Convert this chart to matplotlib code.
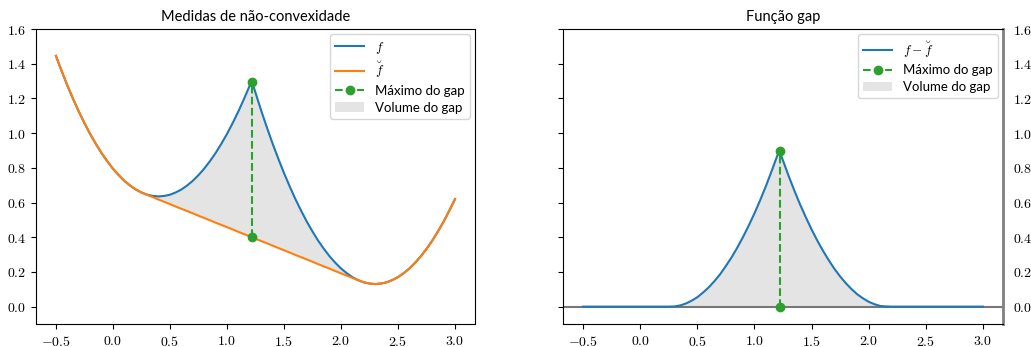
import numpy as np
import matplotlib.pyplot as plt
from matplotlib.ticker import FuncFormatter

plt.rcParams['mathtext.fontset'] = 'cm'
plt.rcParams['font.family'] = ['Lato', 'DejaVu Sans']

# values
x = [-0.5, -0.45, -0.4, -0.35, -0.3, -0.25, -0.2, -0.15, -0.1, -0.05,
     0.0, 0.05, 0.1, 0.15, 0.2, 0.25, 0.3, 0.35, 0.4, 0.45,
     0.5, 0.55, 0.6, 0.65, 0.7, 0.75, 0.8, 0.85, 0.9, 0.95,
     1.0, 1.05, 1.1, 1.15, 1.2, 1.22, 1.25, 1.3, 1.35, 1.4, 1.45,
     1.5, 1.55, 1.6, 1.65, 1.7, 1.75, 1.8, 1.85, 1.9, 1.95,
     2.0, 2.05, 2.1, 2.15, 2.2, 2.25, 2.3, 2.35, 2.4, 2.45,
     2.5, 2.55, 2.6, 2.65, 2.7, 2.75, 2.8, 2.85, 2.9, 2.95, 3.0]
f = [1.445, 1.358, 1.275, 1.198, 1.125, 1.058, 0.995, 0.938, 0.885, 0.838,
     0.795, 0.758, 0.725, 0.698, 0.675, 0.658, 0.645, 0.638, 0.635, 0.638,
     0.645, 0.658, 0.675, 0.698, 0.725, 0.758, 0.795, 0.838, 0.885, 0.938,
     0.995, 1.058, 1.125, 1.198, 1.275, 1.295, 1.233, 1.13, 1.033, 0.94, 0.853,
     0.77, 0.693, 0.62, 0.553, 0.49, 0.433, 0.38, 0.333, 0.29, 0.253,
     0.22, 0.193, 0.17, 0.153, 0.14, 0.133, 0.13, 0.133, 0.14, 0.153,
     0.17, 0.193, 0.22, 0.253, 0.29, 0.333, 0.38, 0.433, 0.49, 0.553, 0.62]
f_env = [1.445, 1.358, 1.275, 1.198, 1.125, 1.058, 0.995, 0.938, 0.885, 0.838,
         0.795, 0.758, 0.725, 0.698, 0.675, 0.658, 0.644, 0.631, 0.617, 0.604,
         0.591, 0.577, 0.564, 0.551, 0.538, 0.524, 0.511, 0.498, 0.484, 0.471,
         0.458, 0.445, 0.431, 0.418, 0.405, 0.40, 0.391, 0.378, 0.365, 0.352, 0.338,
         0.325, 0.312, 0.298, 0.285, 0.272, 0.259, 0.245, 0.232, 0.219, 0.205,
         0.192, 0.179, 0.166, 0.152, 0.14, 0.133, 0.13, 0.133, 0.14, 0.153,
         0.17, 0.193, 0.22, 0.253, 0.29, 0.333, 0.38, 0.433, 0.49, 0.553, 0.62]
gap = [0.0, 0.0, 0.0, 0.0, 0.0, 0.0, 0.0, 0.0, 0.0, 0.0,
       0.0, 0.0, 0.0, 0.0, 0.0, 0.0, 0.001, 0.007, 0.018, 0.034,
       0.054, 0.081, 0.111, 0.147, 0.187, 0.234, 0.284, 0.340, 0.401, 0.467,
       0.537, 0.613, 0.694, 0.780, 0.870, 0.895, 0.842, 0.752, 0.668, 0.588, 0.515,
       0.445, 0.381, 0.322, 0.268, 0.218, 0.174, 0.135, 0.101, 0.071, 0.048,
       0.028, 0.014, 0.004, 0.001, 0.0, 0.0, 0.0, 0.0, 0.0, 0.0,
       0.0, 0.0, 0.0, 0.0, 0.0, 0.0, 0.0, 0.0, 0.0, 0.0, 0.0]
x_max = 1.22
f_at_max = 1.295
env_at_max = 0.40
gap_max = 0.895

GRAY = '#e4e4e4'
fmt = FuncFormatter(lambda v, p: '$%.1f$' % v)
leg_kw = dict(loc='upper right', fontsize=9.5, handlelength=2.2,
              labelspacing=0.35, borderaxespad=0.4)

fig = plt.figure(figsize=(10.31, 3.47), dpi=100)
ax1 = fig.add_axes([0.0349, 0.0663, 0.4258, 0.8501])
ax2 = fig.add_axes([0.5461, 0.0663, 0.4267, 0.8501])

# left: function, convex envelope, gap
ax1.plot(x, f, color='C0', lw=1.5, label='$f$')
ax1.plot(x, f_env, color='C1', lw=1.5, label=r'$\breve{f}$')
ax1.plot([x_max, x_max], [env_at_max, f_at_max], 'o--', color='C2', lw=1.5,
         ms=6, label='Máximo do gap')
ax1.fill_between(x, f_env, f, color=GRAY, lw=0, label='Volume do gap', zorder=0)
ax1.set_title('Medidas de não-convexidade', fontsize=10.5)
ax1.legend(**leg_kw)

# right: gap function
ax2.axhline(0, color='#777777', lw=1.5, zorder=1)
ax2.plot(x, gap, color='C0', lw=1.5, label=r'$f - \breve{f}$', zorder=2)
ax2.plot([x_max, x_max], [0, gap_max], 'o--', color='C2', lw=1.5, ms=6,
         label='Máximo do gap', zorder=3)
ax2.fill_between(x, 0, gap, color=GRAY, lw=0, label='Volume do gap', zorder=0)
ax2.set_title('Função gap', fontsize=10.5)
ax2.legend(**leg_kw)
ax2.tick_params(axis='y', left=True, right=False, labelleft=False, labelright=True)
ax2.spines['right'].set_color('#808080')
ax2.spines['right'].set_linewidth(2)

for ax in (ax1, ax2):
    ax.set_xlim(-0.675, 3.175)
    ax.set_ylim(-0.1, 1.6)
    ax.set_xticks(np.arange(-0.5, 3.01, 0.5))
    ax.set_yticks(np.arange(0, 1.61, 0.2))
    ax.xaxis.set_major_formatter(fmt)
    ax.yaxis.set_major_formatter(fmt)
    ax.tick_params(labelsize=10)

fig.savefig('out.png', dpi=100)
